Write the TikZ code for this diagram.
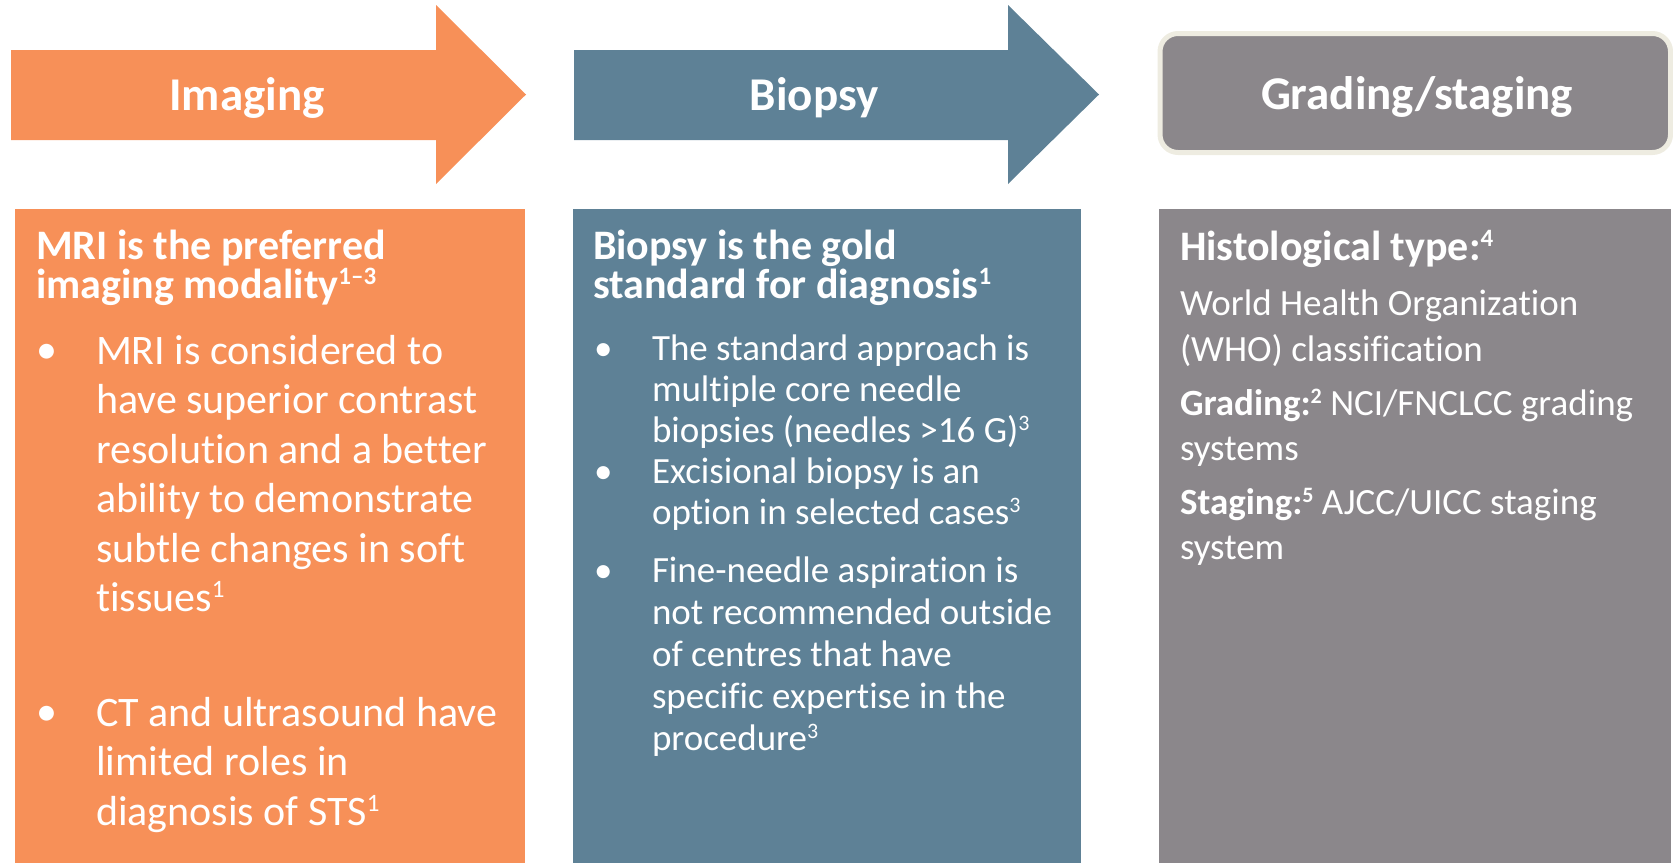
\documentclass[tikz,border=0pt]{standalone}
\usepackage{fontspec}
\setmainfont{Carlito}[Ligatures={NoCommon}]
\definecolor{imgorange}{HTML}{F79058}
\definecolor{bioblue}{HTML}{5E8196}
\definecolor{gradegrey}{HTML}{8B878B}
\definecolor{gradeedge}{HTML}{EEECE1}
% superscript reference marks for 42pt and 37pt text
\newcommand\refL[1]{\raisebox{14pt}{\fontsize{25}{25}\selectfont #1}}
\newcommand\refS[1]{\raisebox{12pt}{\fontsize{22}{22}\selectfont #1}}
\begin{document}
\begin{tikzpicture}[x=1pt,y=-1pt,
  every node/.style={inner sep=0pt,outer sep=0pt,text=white},
  steptitle/.style={font=\fontsize{47}{47}\selectfont\bfseries,anchor=base},
  % multi-line nodes are anchored at the baseline of their last line
  headL/.style={font=\fontsize{42}{39}\selectfont\bfseries,align=left,anchor=base west},
  itemL/.style={font=\fontsize{42}{49.5}\selectfont,align=left,anchor=base west},
  itemS/.style={font=\fontsize{37}{41}\selectfont,align=left,anchor=base west},
  itemT/.style={font=\fontsize{37}{42}\selectfont,align=left,anchor=base west},
  plainS/.style={font=\fontsize{37}{45.5}\selectfont,align=left,anchor=base west},
  dotL/.style={font=\fontsize{42}{42}\selectfont,anchor=base west},
  dotS/.style={font=\fontsize{37}{37}\selectfont,anchor=base west}]
\useasboundingbox (0,0) rectangle (1673,863);

% step arrows
\fill[imgorange] (11,50) -- (436,50) -- (436,5) -- (526,94.5) -- (436,184)
  -- (436,140) -- (11,140) -- cycle;
\fill[bioblue] (574,50) -- (1008,50) -- (1008,5) -- (1099,94.5) -- (1008,184)
  -- (1008,140) -- (574,140) -- cycle;
% final step box
\draw[gradeedge,line width=5pt,fill=gradegrey,rounded corners=18pt]
  (1160,33.5) rectangle (1670.5,152.5);

\node[steptitle] (timg) at (247,110) {Imaging};
\node[steptitle] (tbio) at (814,110) {Biopsy};
\node[steptitle] (tgrd) at (1417,109) {Grading/staging};

% content panels
\fill[imgorange] (15,209) rectangle (525,863);
\fill[bioblue] (573,209) rectangle (1081,863);
\fill[gradegrey] (1159,209) rectangle (1671,863);

% imaging panel
\node[headL] (ihead) at (36,298) {MRI is the preferred\\imaging modality\refL{1–3}};
\node[dotL] (idot1) at (36,363) {•};
\node[itemL] (iitem1) at (96,611.5) {MRI is considered to\\have superior contrast\\resolution and a better\\ability to demonstrate\\subtle changes in soft\\tissues\refL{1}};
\node[dotL] (idot2) at (36,725) {•};
\node[itemL] (iitem2) at (96,825) {CT and ultrasound have\\limited roles in\\diagnosis of STS\refL{1}};

% biopsy panel
\node[headL] (bhead) at (593,298) {Biopsy is the gold\\standard for diagnosis\refL{1}};
\node[dotS] (bdot1) at (594,360) {•};
\node[itemS] (bitem1) at (652,442) {The standard approach is\\multiple core needle\\biopsies (needles >16 G)\refS{3}};
\node[dotS] (bdot2) at (594,483) {•};
\node[itemS] (bitem2) at (652,524) {Excisional biopsy is an\\option in selected cases\refS{3}};
\node[dotS] (bdot3) at (594,582.5) {•};
\node[itemT] (bitem3) at (652,750.5) {Fine-needle aspiration is\\not recommended outside\\of centres that have\\specific expertise in the\\procedure\refS{3}};

% grading panel
\node[headL] (ghead) at (1180,260) {Histological type:\refL{4}};
\node[plainS] (gwho) at (1180,361) {World Health Organization\\(WHO) classification};
\node[plainS] (ggrade) at (1180,460.5) {\textbf{Grading:\refS{2}} NCI/FNCLCC grading\\systems};
\node[plainS] (gstage) at (1180,559.5) {\textbf{Staging:\refS{5}} AJCC/UICC staging\\system};
\end{tikzpicture}
\end{document}
